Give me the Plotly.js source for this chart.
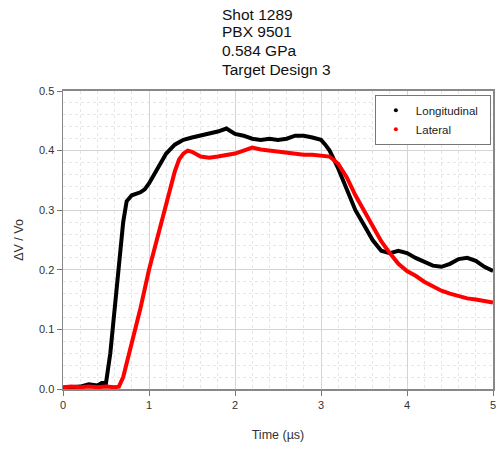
<!DOCTYPE html>
<html>
<head>
<meta charset="utf-8">
<script src="https://cdn.plot.ly/plotly-3.0.1.min.js"></script>
<style>html,body{margin:0;padding:0;background:#fff;}#chart{width:498px;height:449px;}</style>
</head>
<body>
<div id="chart"></div>
<script>
// Time (µs) and ΔV/Vo values
const timeLong = [0, 0.1, 0.2, 0.3, 0.4, 0.45, 0.5, 0.55, 0.6, 0.65, 0.7, 0.74, 0.8, 0.9, 0.95, 1.0, 1.1, 1.2, 1.3, 1.4, 1.5, 1.6, 1.7, 1.8, 1.9, 2.0, 2.1, 2.2, 2.3, 2.4, 2.5, 2.6, 2.7, 2.8, 2.9, 3.0, 3.05, 3.1, 3.2, 3.3, 3.4, 3.5, 3.6, 3.7, 3.8, 3.9, 4.0, 4.1, 4.2, 4.3, 4.4, 4.5, 4.6, 4.7, 4.8, 4.9, 5.0];
const valLong = [0.002, 0.003, 0.004, 0.008, 0.006, 0.01, 0.01, 0.06, 0.13, 0.21, 0.28, 0.315, 0.325, 0.33, 0.335, 0.345, 0.37, 0.395, 0.41, 0.418, 0.422, 0.425, 0.428, 0.432, 0.437, 0.428, 0.425, 0.42, 0.418, 0.42, 0.418, 0.42, 0.425, 0.425, 0.422, 0.418, 0.41, 0.40, 0.37, 0.335, 0.30, 0.275, 0.25, 0.232, 0.228, 0.232, 0.228, 0.22, 0.213, 0.207, 0.205, 0.21, 0.218, 0.22, 0.215, 0.205, 0.198];

const timeLat = [0, 0.1, 0.2, 0.3, 0.4, 0.5, 0.6, 0.65, 0.7, 0.8, 0.9, 1.0, 1.1, 1.2, 1.3, 1.35, 1.4, 1.45, 1.5, 1.6, 1.7, 1.8, 1.9, 2.0, 2.1, 2.2, 2.3, 2.4, 2.5, 2.6, 2.7, 2.8, 2.9, 3.0, 3.1, 3.2, 3.3, 3.4, 3.5, 3.6, 3.7, 3.8, 3.9, 4.0, 4.1, 4.2, 4.3, 4.4, 4.5, 4.6, 4.7, 4.8, 4.9, 5.0];
const valLat = [0.003, 0.004, 0.003, 0.004, 0.003, 0.004, 0.003, 0.004, 0.02, 0.075, 0.135, 0.2, 0.255, 0.31, 0.365, 0.385, 0.395, 0.40, 0.398, 0.39, 0.388, 0.39, 0.392, 0.395, 0.40, 0.405, 0.402, 0.40, 0.398, 0.397, 0.395, 0.393, 0.393, 0.392, 0.39, 0.378, 0.355, 0.325, 0.30, 0.272, 0.248, 0.228, 0.21, 0.198, 0.19, 0.18, 0.172, 0.165, 0.16, 0.156, 0.152, 0.15, 0.147, 0.145];

const seriesNames = ["Longitudinal", "Lateral"];
const titleLines = ["Shot 1289", "PBX 9501", "0.584 GPa", "Target Design 3"];
const xTicks = [0, 1, 2, 3, 4, 5];
const yTicks = [0.0, 0.1, 0.2, 0.3, 0.4, 0.5];

const FONT = "Liberation Sans, Arial, sans-serif";

const traces = [
  {x: timeLong, y: valLong, mode: "lines", line: {color: "#000000", width: 4}, showlegend: false, hoverinfo: "skip"},
  {x: timeLat, y: valLat, mode: "lines", line: {color: "#ff0000", width: 4}, showlegend: false, hoverinfo: "skip"},
  {x: [null], y: [null], mode: "markers", name: seriesNames[0] + "\u00a0\u00a0", marker: {color: "#000000", size: 4}},
  {x: [null], y: [null], mode: "markers", name: seriesNames[1], marker: {color: "#ff0000", size: 4}}
];

// title lines stacked at fixed spacing (pixel rows converted to paper coords)
const titleRows = [14, 32, 51, 69];
const annotations = titleLines.map((t, i) => ({
  text: t, xref: "paper", yref: "paper",
  x: (220 - 63) / 430, xanchor: "left", y: (389 - titleRows[i]) / 298, yanchor: "middle",
  align: "left", showarrow: false, font: {family: FONT, size: 15.5, color: "#111"}
}));

const layout = {
  width: 498, height: 449,
  margin: {l: 63, r: 5, t: 91, b: 60},
  paper_bgcolor: "#ffffff", plot_bgcolor: "#ffffff",
  font: {family: FONT, size: 11, color: "#333333"},
  showlegend: true,
  legend: {x: 0.995, xanchor: "right", y: 0.987, yanchor: "top", bgcolor: "#ffffff", bordercolor: "#777777", borderwidth: 1,
           font: {family: FONT, size: 11.5, color: "#222222"}, itemwidth: 30, tracegroupgap: 0},
  xaxis: {range: [0, 5], tickvals: xTicks, ticktext: xTicks.map(String), ticks: "outside", ticklen: 5, tickcolor: "#777",
          showline: true, linecolor: "#888888", linewidth: 2, mirror: true, zeroline: false,
          showgrid: true, gridcolor: "#d4d4d4", gridwidth: 1,
          minor: {dtick: 0.2, showgrid: true, gridcolor: "#e6e6e6", griddash: "dot", gridwidth: 1},
          title: {text: "Time (µs)", font: {family: FONT, size: 12.5, color: "#333"}, standoff: 20}},
  yaxis: {range: [0, 0.5], tickvals: yTicks, ticktext: yTicks.map(v => v.toFixed(1)), ticks: "outside", ticklen: 5, tickcolor: "#777",
          showline: true, linecolor: "#888888", linewidth: 1.5, mirror: true, zeroline: false,
          showgrid: true, gridcolor: "#d4d4d4", gridwidth: 1,
          minor: {dtick: 0.02, showgrid: true, gridcolor: "#e6e6e6", griddash: "dot", gridwidth: 1},
          title: {text: "ΔV / Vo", font: {family: FONT, size: 12.5, color: "#333"}, standoff: 12}},
  annotations: annotations
};

Plotly.newPlot("chart", traces, layout, {displayModeBar: false, staticPlot: true});
</script>
</body>
</html>
